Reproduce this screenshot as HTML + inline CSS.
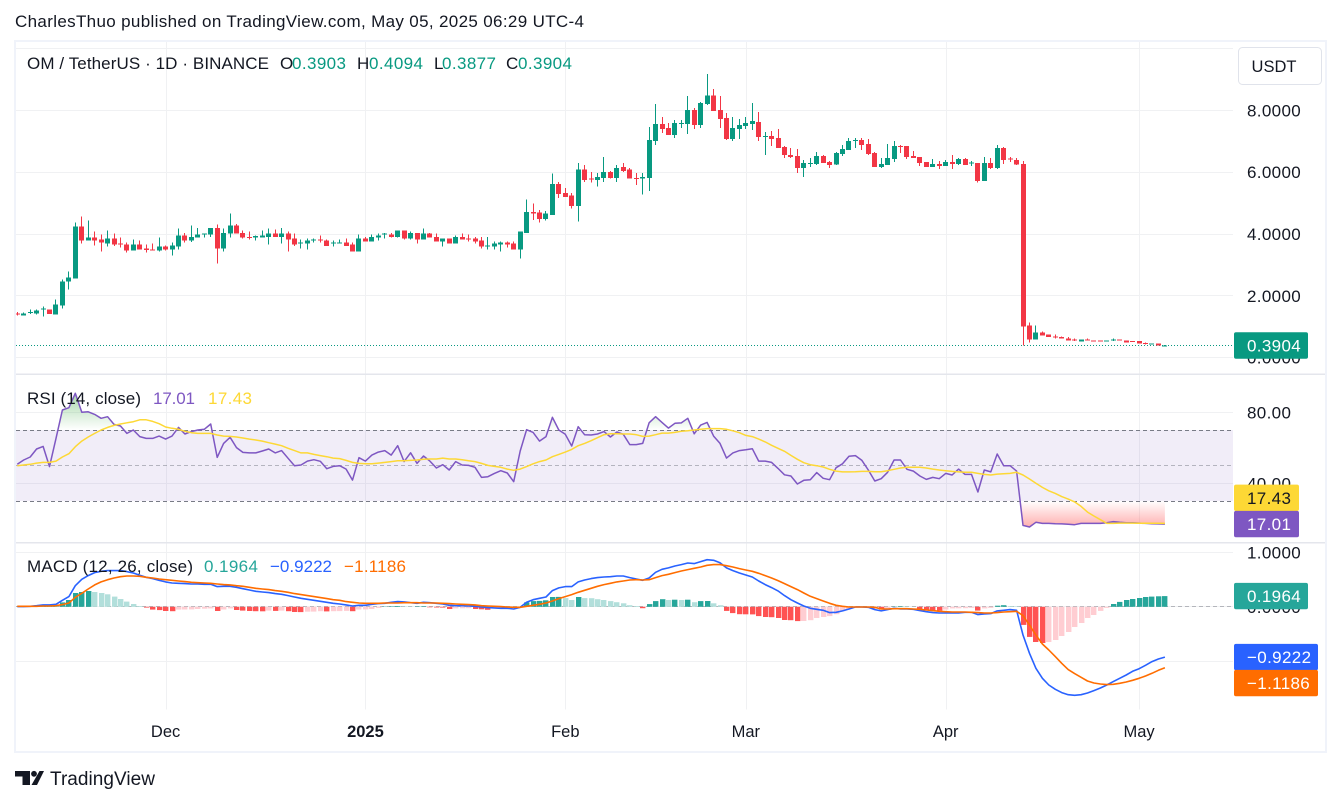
<!DOCTYPE html>
<html lang="en">
<head>
<meta charset="utf-8">
<title>OM / TetherUS chart</title>
<style>
html,body{margin:0;padding:0;background:#fff;width:1341px;height:805px;overflow:hidden}
svg{display:block}
text{font-family:"Liberation Sans",sans-serif;fill:#131722}
.ax{font-size:17px;letter-spacing:.35px}
.lg{font-size:17px}
</style>
</head>
<body>
<svg id="root" width="1341" height="805" viewBox="0 0 1341 805" xmlns="http://www.w3.org/2000/svg">
  <defs>
    <clipPath id="plotClip"><rect x="16" y="42" width="1217" height="668"/></clipPath>
    <clipPath id="aboveBand"><rect x="16" y="376" width="1217" height="54.3"/></clipPath>
    <clipPath id="belowBand"><rect x="16" y="501" width="1217" height="41"/></clipPath>
    <linearGradient id="obGrad" gradientUnits="userSpaceOnUse" x1="0" y1="388" x2="0" y2="430">
      <stop offset="0" stop-color="#4caf50" stop-opacity="0.55"/>
      <stop offset="1" stop-color="#4caf50" stop-opacity="0"/>
    </linearGradient>
    <linearGradient id="osGrad" gradientUnits="userSpaceOnUse" x1="0" y1="501" x2="0" y2="526">
      <stop offset="0" stop-color="#ff5252" stop-opacity="0"/>
      <stop offset="1" stop-color="#ff5252" stop-opacity="0.45"/>
    </linearGradient>
  </defs>

  <text x="15" y="27" font-size="17" textLength="569">CharlesThuo published on TradingView.com, May 05, 2025 06:29 UTC-4</text>

  <rect x="15" y="41" width="1311" height="711" fill="#fff" stroke="#f0f3fa" stroke-width="2"/>

  <g id="grid"></g>

  <rect x="16" y="430" width="1217" height="71" fill="#7e57c2" fill-opacity="0.11"/>
  <line x1="16" x2="1233" y1="430.5" y2="430.5" stroke="#787b86" stroke-dasharray="4 3"/>
  <line x1="16" x2="1233" y1="465.5" y2="465.5" stroke="#787b86" stroke-opacity="0.5" stroke-dasharray="4 3"/>
  <line x1="16" x2="1233" y1="501.5" y2="501.5" stroke="#787b86" stroke-dasharray="4 3"/>
  <line x1="16" x2="1233" y1="606.5" y2="606.5" stroke="#787b86" stroke-opacity="0.5" stroke-dasharray="4 3"/>

  <line x1="16" x2="1233" y1="345.5" y2="345.5" stroke="#089981" stroke-dasharray="1 2"/>

  <g id="plots" clip-path="url(#plotClip)"></g>

  <rect x="16" y="373.5" width="1309" height="1.5" fill="#e4e6ec"/>
  <rect x="16" y="542" width="1309" height="1.5" fill="#e4e6ec"/>

  <g id="axes"></g>
  <g id="tags"></g>

  <g class="lg">
    <text class="lg" x="27" y="69" textLength="242">OM / TetherUS · 1D · BINANCE</text>
    <text class="lg" x="280" y="69">O</text>
    <text class="lg" x="292" y="69" style="fill:#089981" textLength="54">0.3903</text>
    <text class="lg" x="357" y="69">H</text>
    <text class="lg" x="369" y="69" style="fill:#089981" textLength="54">0.4094</text>
    <text class="lg" x="434" y="69">L</text>
    <text class="lg" x="442" y="69" style="fill:#089981" textLength="54">0.3877</text>
    <text class="lg" x="506" y="69">C</text>
    <text class="lg" x="518" y="69" style="fill:#089981" textLength="54">0.3904</text>
  </g>
  <g>
    <text class="lg" x="27" y="404" textLength="114">RSI (14, close)</text>
    <text class="lg" x="153" y="404" style="fill:#7e57c2" textLength="42">17.01</text>
    <text class="lg" x="208" y="404" style="fill:#fdd835" textLength="44">17.43</text>
  </g>
  <g>
    <text class="lg" x="27" y="572" textLength="166">MACD (12, 26, close)</text>
    <text class="lg" x="204" y="572" style="fill:#26a69a" textLength="54">0.1964</text>
    <text class="lg" x="270" y="572" style="fill:#2962ff" textLength="62">−0.9222</text>
    <text class="lg" x="344" y="572" style="fill:#ff6d00" textLength="62">−1.1186</text>
  </g>

  <g>
    <rect x="1238.5" y="47.5" width="83" height="37" rx="4" fill="#fff" stroke="#e0e3eb"/>
    <text x="1274" y="72" text-anchor="middle" font-size="16.5">USDT</text>
  </g>

  <g>
    <path d="M15 771H30V785H22.5V776.5H15Z M39.5 771H44L37 785H31.5Z" fill="#131722"/>
    <circle cx="34" cy="773.8" r="2.9" fill="#131722"/>
    <text x="50" y="785" font-size="19" textLength="105">TradingView</text>
  </g>
</svg>

<script>
// Daily candles from 8 Nov 2024 to 5 May 2025: [open, high, low, close]
const candles = [
[1.43,1.47,1.37,1.40],[1.37,1.46,1.37,1.43],[1.44,1.56,1.41,1.47],[1.43,1.56,1.40,1.53],[1.57,1.65,1.33,1.59],
[1.56,1.56,1.41,1.41],[1.40,1.88,1.40,1.72],[1.69,2.53,1.59,2.46],[2.46,2.78,2.20,2.59],[2.56,4.37,2.56,4.24],
[4.24,4.56,3.69,3.79],[3.79,4.43,3.79,3.88],[3.88,4.08,3.62,3.79],[3.82,3.98,3.43,3.72],[3.69,4.11,3.59,3.85],
[3.85,4.01,3.62,3.66],[3.69,3.88,3.56,3.67],[3.66,3.72,3.40,3.46],[3.46,3.82,3.46,3.66],[3.66,3.79,3.50,3.50],
[3.53,3.66,3.40,3.48],[3.50,3.69,3.47,3.47],[3.46,3.88,3.43,3.59],[3.59,3.62,3.46,3.50],[3.50,3.72,3.30,3.62],
[3.59,4.17,3.50,3.95],[3.95,4.04,3.72,3.79],[3.79,4.27,3.75,3.91],[3.88,4.20,3.88,3.98],[3.98,4.01,3.88,4.01],
[3.98,4.20,3.91,4.20],[4.20,4.30,3.04,3.53],[3.53,4.17,3.43,4.04],[4.01,4.66,3.88,4.27],[4.27,4.33,4.01,4.01],
[4.04,4.11,3.85,3.88],[3.91,4.08,3.82,3.87],[3.88,3.95,3.79,3.93],[3.88,4.11,3.88,3.95],[3.91,4.17,3.66,4.01],
[4.01,4.14,3.91,3.91],[3.91,4.20,3.69,4.01],[4.01,4.08,3.43,3.82],[3.85,4.01,3.62,3.66],[3.70,3.82,3.53,3.72],
[3.69,3.85,3.50,3.79],[3.79,3.85,3.72,3.82],[3.82,3.95,3.72,3.79],[3.79,3.82,3.62,3.62],[3.69,3.79,3.59,3.72],
[3.70,3.82,3.69,3.72],[3.72,3.85,3.62,3.62],[3.66,3.72,3.43,3.43],[3.43,3.98,3.43,3.85],[3.85,3.91,3.75,3.75],
[3.75,3.98,3.75,3.91],[3.88,4.01,3.79,3.95],[3.98,4.04,3.85,4.01],[3.98,4.04,3.88,3.91],[3.91,4.11,3.88,4.11],
[4.11,4.11,3.82,3.85],[3.85,4.08,3.82,4.04],[4.04,4.04,3.69,3.82],[3.82,4.17,3.82,4.01],[4.01,4.04,3.88,3.88],
[3.91,4.01,3.75,3.75],[3.75,3.85,3.59,3.85],[3.85,3.85,3.69,3.69],[3.69,3.95,3.69,3.91],[3.91,4.01,3.82,3.82],
[3.85,3.98,3.75,3.83],[3.85,3.91,3.69,3.75],[3.79,3.91,3.53,3.59],[3.60,3.91,3.50,3.62],[3.59,3.75,3.50,3.69],
[3.66,3.75,3.43,3.72],[3.72,3.75,3.56,3.66],[3.69,3.75,3.50,3.50],[3.50,4.08,3.20,4.08],[4.04,5.11,4.04,4.72],
[4.72,4.98,4.46,4.66],[4.69,4.78,4.37,4.49],[4.49,4.75,4.43,4.66],[4.62,5.95,4.62,5.62],[5.62,5.69,5.17,5.30],
[5.33,5.49,5.20,5.20],[5.24,5.33,4.82,4.91],[4.91,6.30,4.40,6.08],[6.08,6.24,5.69,5.75],[5.79,6.01,5.66,5.76],
[5.75,5.98,5.53,5.85],[5.82,6.49,5.69,6.01],[6.01,6.04,5.79,5.82],[5.82,6.24,5.69,6.14],[6.17,6.30,6.01,6.04],
[6.08,6.14,5.79,5.79],[5.82,5.98,5.59,5.80],[5.79,5.98,5.27,5.85],[5.82,7.46,5.40,7.04],[7.01,8.21,6.88,7.56],
[7.56,7.79,7.27,7.40],[7.43,7.59,7.20,7.20],[7.20,7.69,7.11,7.59],[7.58,7.69,7.43,7.60],[7.56,8.46,7.24,8.01],
[8.01,8.08,7.40,7.53],[7.53,8.27,7.43,8.24],[8.21,9.17,8.17,8.49],[8.49,8.69,7.98,7.98],[8.01,8.46,7.43,7.72],
[7.75,7.91,7.04,7.08],[7.08,7.79,7.01,7.43],[7.40,7.72,7.08,7.53],[7.49,7.79,7.40,7.59],[7.56,8.24,7.37,7.66],
[7.62,7.95,7.01,7.14],[7.15,7.30,6.56,7.17],[7.17,7.33,6.85,7.08],[7.11,7.40,6.79,6.79],[6.82,6.85,6.46,6.56],
[6.56,6.79,6.46,6.49],[6.53,6.75,5.98,6.14],[6.14,6.40,5.85,6.30],[6.27,6.46,6.17,6.30],[6.27,6.66,6.24,6.53],
[6.53,6.56,6.30,6.30],[6.33,6.37,6.14,6.24],[6.24,6.66,6.24,6.62],[6.59,6.88,6.53,6.75],[6.72,7.11,6.72,7.01],
[7.01,7.11,6.79,7.04],[7.04,7.11,6.72,6.88],[6.91,7.07,6.56,6.59],[6.62,6.66,6.17,6.17],[6.17,6.46,6.14,6.27],
[6.24,6.91,6.24,6.46],[6.43,7.01,6.33,6.85],[6.85,6.88,6.62,6.82],[6.85,6.85,6.43,6.49],[6.53,6.69,6.46,6.46],
[6.49,6.49,6.20,6.30],[6.33,6.33,6.17,6.17],[6.17,6.43,6.17,6.27],[6.27,6.37,6.11,6.20],[6.20,6.40,6.20,6.33],
[6.33,6.56,6.11,6.27],[6.27,6.46,6.24,6.43],[6.43,6.46,6.24,6.24],[6.29,6.37,6.20,6.31],[6.30,6.30,5.66,5.72],
[5.72,6.49,5.72,6.30],[6.30,6.46,6.11,6.14],[6.14,6.88,6.11,6.79],[6.79,6.82,6.27,6.40],[6.45,6.49,6.33,6.42],
[6.40,6.46,6.24,6.24],[6.27,6.37,0.40,1.01],[1.04,1.14,0.49,0.59],[0.59,1.04,0.59,0.82],[0.82,0.85,0.72,0.72],
[0.75,0.75,0.66,0.66],[0.69,0.75,0.62,0.67],[0.66,0.69,0.62,0.62],[0.62,0.66,0.56,0.56],[0.59,0.62,0.53,0.56],
[0.53,0.59,0.53,0.59],[0.59,0.62,0.56,0.56],[0.56,0.56,0.54,0.54],[0.56,0.56,0.54,0.54],[0.54,0.56,0.54,0.56],
[0.56,0.62,0.53,0.59],[0.59,0.59,0.56,0.56],[0.56,0.56,0.49,0.49],[0.53,0.53,0.50,0.50],[0.53,0.53,0.46,0.46],
[0.48,0.49,0.43,0.46],[0.43,0.46,0.43,0.46],[0.46,0.46,0.40,0.40],[0.3903,0.4094,0.3877,0.3904]
];

const rsiValues = [
50.7,53.1,54.8,59.3,60.8,49.4,65.3,81.3,82.6,90.7,
80.0,80.3,78.8,76.6,77.5,73.2,72.3,68.1,70,66.3,
65.3,65.3,66.6,64.9,66.6,71.5,67.8,69.1,70,70.4,
73.4,54.6,62.5,65.9,60.1,57.4,57.1,57.1,58.2,59.3,
57.1,58.4,54.1,49.9,50.3,52.5,53.3,52.4,48.2,49.5,
49.9,48,41.8,54.4,52.5,55.9,57.6,58.4,55.9,61.2,
52.2,57.2,51.2,55.4,52.5,48.6,50.5,47.5,52.2,50.3,
50.1,49,43.3,43.7,45.6,47.1,45.8,40.9,58.2,70.2,
68.7,63.8,66.3,77.2,70,67.6,61,71.9,67.4,67.2,
67.8,69.1,66.1,68.9,67.6,61.8,61.8,62.5,74.1,77.5,
74.3,71.1,73.8,74,76.6,67.9,72.8,74.3,66.6,62.5,
54.2,57.1,58.4,58.9,59.5,52.5,52.5,51.8,48.4,44.8,
44.1,39.6,41.7,42,46,42.8,42,48.8,51,55.2,
55.6,52.9,47.5,41.3,42.6,46.2,53.1,53.1,47.9,46.9,
44.1,42.2,43.3,42.6,45.6,44.7,48,45,45,35.1,
47.5,46.4,56.5,49.9,49.9,46.9,16.3,15.4,18,17.4,
17.4,17.2,17.1,16.9,16.7,17.4,17.4,17.4,17.4,17.8,
18.4,18,17.8,17.8,17.6,17.4,17.2,17.1,17.01
];

const rsiMaValues = [
49.9,50.3,50.7,51.4,51.8,51.8,52.5,54.8,56.7,60.6,
63.8,66.1,68.1,70,71.5,72.6,73.4,74.1,74.7,75.8,
75.8,74.9,73.6,71.7,71,70.4,69.3,68.5,68.1,68.1,
68.1,67.2,66.6,66.4,66.1,65.5,64.9,64.4,63.8,62.9,
62.1,61.2,59.7,58.4,57.1,57.1,56.3,55.6,55,54.2,
53.9,52.9,51.8,51.2,51,51,51.4,51.8,52.2,52.7,
52.7,52.9,53.1,53.5,53.7,53.7,54.2,53.7,53.7,53.3,
52.7,52.2,51.2,50.1,49.5,49,48,47.3,48,49.4,
51,52.2,53.1,55,56.3,57.6,59.1,61.2,62.5,64,
65.7,67.4,67.9,67.9,67.8,67.8,67.4,66.4,66.6,67.4,
68.3,68.3,68.7,69.3,69.6,70,70.4,70.8,70.8,70.8,
70.4,69.6,68.5,67,66.3,64.9,63.3,61.4,59.7,58,
55.7,53.5,51.6,50.5,49.9,49.2,47.9,46.9,46.4,46.4,
46.5,46.7,46.7,46.5,46.5,47.1,47.9,48.6,49,49,
49,48.6,48,47.5,47.1,46.7,46.4,46.2,46.2,45.6,
45,44.7,45.2,45.4,45.6,46.2,44.7,42.4,40,37.7,
35.8,34.3,32.5,31.1,29.5,27,23.8,21.6,19.5,17.4,
17.4,17.6,17.6,17.6,17.5,17.5,17.45,17.44,17.43
];

const macdLine = [
.003,.003,.009,.021,.034,.034,.046,.119,.187,.388,
.505,.572,.627,.651,.664,.664,.664,.645,.621,.578,
.541,.517,.486,.456,.437,.431,.425,.419,.419,.413,
.413,.37,.376,.376,.358,.333,.309,.284,.272,.26,
.242,.229,.205,.18,.156,.138,.119,.101,.083,.064,
.052,.034,.015,.028,.028,.046,.058,.064,.083,.095,
.089,.076,.064,.083,.076,.064,.052,.028,.021,.021,
.015,.009,-.003,-.015,-.021,-.028,-.028,-.04,-.009,.083,
.131,.156,.18,.297,.346,.37,.37,.456,.492,.517,
.535,.547,.553,.566,.566,.535,.511,.486,.529,.633,
.688,.713,.749,.774,.804,.792,.829,.865,.853,.81,
.713,.664,.621,.584,.547,.474,.407,.352,.291,.205,
.131,.07,.015,-.028,-.046,-.064,-.107,-.101,-.076,-.04,
-.003,-.003,-.009,-.052,-.076,-.052,-.028,-.04,-.04,-.046,
-.07,-.089,-.107,-.113,-.113,-.113,-.113,-.101,-.101,-.144,
-.131,-.125,-.076,-.064,-.052,-.064,-.517,-.853,-1.128,-1.312,
-1.434,-1.514,-1.575,-1.612,-1.624,-1.612,-1.581,-1.538,-1.489,-1.434,
-1.373,-1.312,-1.251,-1.183,-1.135,-1.073,-1.006,-.957,-.9222
];

const macdSignal = [
.009,.009,.009,.009,.015,.015,.021,.04,.07,.174,
.248,.327,.401,.456,.498,.529,.553,.566,.566,.56,
.541,.529,.511,.498,.486,.474,.462,.449,.443,.437,
.431,.419,.407,.401,.388,.376,.358,.339,.327,.315,
.297,.284,.266,.242,.223,.205,.187,.168,.15,.131,
.119,.095,.083,.07,.064,.064,.064,.07,.07,.07,
.076,.076,.076,.07,.07,.07,.064,.058,.052,.046,
.04,.034,.021,.015,.009,.003,-.003,-.009,-.009,.009,
.028,.046,.07,.107,.15,.187,.223,.266,.303,.339,
.376,.407,.431,.456,.474,.492,.498,.492,.498,.535,
.572,.596,.627,.657,.682,.706,.731,.761,.774,.774,
.755,.731,.7,.676,.651,.615,.572,.529,.48,.425,
.37,.315,.254,.193,.15,.107,.064,.028,.009,-.003,
-.003,-.003,-.003,-.009,-.04,-.04,-.034,-.034,-.034,-.04,
-.046,-.058,-.07,-.083,-.089,-.095,-.095,-.095,-.101,-.107,
-.113,-.113,-.107,-.095,-.089,-.083,-.162,-.333,-.517,-.682,
-.792,-.914,-1.037,-1.153,-1.226,-1.294,-1.361,-1.398,-1.416,-1.428,
-1.422,-1.404,-1.379,-1.349,-1.312,-1.269,-1.22,-1.165,-1.1186
];

const macdHistogram = [
.002,.002,.003,.004,.006,.008,.01,.08,.125,.254,
.272,.29,.272,.254,.23,.187,.144,.095,.052,.015,
-.015,-.052,-.06,-.077,-.08,-.052,-.05,-.048,-.04,-.034,
-.03,-.077,-.05,-.03,-.058,-.07,-.077,-.08,-.082,-.07,
-.075,-.07,-.08,-.095,-.097,-.09,-.088,-.08,-.085,-.08,
-.078,-.075,-.08,-.05,-.048,-.04,-.02,.005,.01,.012,
.008,.006,.008,.01,-.01,-.012,-.015,-.04,-.03,-.028,
-.025,-.04,-.045,-.055,-.03,-.01,-.005,-.003,.005,.08,
.105,.108,.12,.18,.182,.16,.125,.18,.16,.158,
.14,.125,.105,.085,.065,.03,.015,-.025,.05,.105,
.14,.125,.13,.125,.13,.085,.105,.107,.065,.03,
-.075,-.115,-.135,-.137,-.14,-.17,-.187,-.19,-.205,-.243,
-.245,-.262,-.26,-.245,-.205,-.187,-.17,-.135,-.08,-.04,
-.015,-.005,-.002,-.03,-.05,-.03,.005,.01,.008,.002,
-.05,-.055,-.06,-.07,-.05,-.03,-.028,-.025,-.02,-.07,
-.03,-.02,.02,.03,.015,.01,-.333,-.553,-.645,-.664,
-.645,-.61,-.535,-.462,-.37,-.297,-.205,-.15,-.076,-.02,
.052,.089,.125,.144,.162,.18,.187,.192,.1964
];

const priceGridTicks = [10, 8, 6, 4, 2, 0];
const priceTickLabels = [8, 6, 4, 2, 0];
const rsiTicks = [80, 40];
const macdTicks = [1, 0, -1];
const monthLabels = ["Dec", "2025", "Feb", "Mar", "Apr", "May"];
const monthIndexes = [23, 54, 85, 113, 144, 174];

const NS = "http://www.w3.org/2000/svg";
const xAt = i => 17.3 + 6.447 * i;
const yPrice = p => 357.6 - 30.9 * p;
const yRsi = r => 554.3 - 1.775 * r;
const yMacd = m => 606.8 - 54.5 * m;

const plots = document.getElementById("plots");
const grid = document.getElementById("grid");
const axes = document.getElementById("axes");
const tags = document.getElementById("tags");

function make(tag, attrs, parent) {
  const el = document.createElementNS(NS, tag);
  for (const k in attrs) el.setAttribute(k, attrs[k]);
  parent.appendChild(el);
  return el;
}
function snap(y) { return Math.round(y - 0.5) + 0.5; }
function polyline(values, yFn) {
  return values.map((v, i) => xAt(i).toFixed(1) + "," + yFn(v).toFixed(1)).join(" ");
}

/* horizontal grid */
priceGridTicks.forEach(p => {
  const el = make("line", {x1: 16, x2: 1233, y1: snap(yPrice(p)), y2: snap(yPrice(p)), stroke: "#f0f1f3"}, grid);
  
  
});
rsiTicks.forEach(r => {
  const el = make("line", {x1: 16, x2: 1233, y1: snap(yRsi(r)), y2: snap(yRsi(r)), stroke: "#f0f1f3"}, grid);
  
  
});
macdTicks.forEach(m => {
  const el = make("line", {x1: 16, x2: 1233, y1: snap(yMacd(m)), y2: snap(yMacd(m)), stroke: "#f0f1f3"}, grid);
  
  
});
/* vertical grid + time labels */
monthIndexes.forEach((idx, k) => {
  const x = Math.round(xAt(idx)) + 0.5;
  const line = make("line", {x1: x, x2: x, y1: 42, y2: 709.5, stroke: "#f0f1f3"}, grid);
  
  
  const t = make("text", {x: xAt(idx), y: 737, "text-anchor": "middle", "font-size": 16.5}, axes);
  if (monthLabels[k] === "2025") t.setAttribute("font-weight", "bold");
  t.textContent = monthLabels[k];
  
  
});

/* candles */
candles.forEach((c, i) => {
  const [o, h, l, cl] = c;
  const up = cl >= o;
  const col = up ? "#089981" : "#f23645";
  const x0 = Math.round(xAt(i) - 2.5);
  const wick = make("rect", {x: x0 + 2, y: yPrice(h).toFixed(1), width: 1, height: Math.max(1, yPrice(l) - yPrice(h)).toFixed(1), fill: col, "shape-rendering": "crispEdges"}, plots);
  
  
  const top = yPrice(Math.max(o, cl));
  const body = make("rect", {x: x0, y: top.toFixed(1), width: 5, height: Math.max(1, yPrice(Math.min(o, cl)) - top).toFixed(1), fill: col, "shape-rendering": "crispEdges"}, plots);
  
  
});

/* RSI fills and lines */
const rsiBaseHigh = yRsi(70);
const rsiBaseLow = yRsi(30);
const rsiPts = polyline(rsiValues, yRsi);
const lastX = xAt(rsiValues.length - 1);
const firstX = xAt(0);
const obArea = make("polygon", {points: rsiPts + " " + lastX + "," + rsiBaseHigh + " " + firstX + "," + rsiBaseHigh, fill: "url(#obGrad)", "clip-path": "url(#aboveBand)"}, plots);


const osArea = make("polygon", {points: rsiPts + " " + lastX + "," + rsiBaseLow + " " + firstX + "," + rsiBaseLow, fill: "url(#osGrad)", "clip-path": "url(#belowBand)"}, plots);



const rsiPath = make("polyline", {points: rsiPts, fill: "none", stroke: "#7e57c2", "stroke-width": 1.5, "stroke-linejoin": "round"}, plots);


const rsiMaPath = make("polyline", {points: polyline(rsiMaValues, yRsi), fill: "none", stroke: "#fdd835", "stroke-width": 1.5, "stroke-linejoin": "round"}, plots);



/* MACD histogram */
macdHistogram.forEach((v, i) => {
  const prev = i > 0 ? macdHistogram[i - 1] : 0;
  let col;
  if (v >= 0) col = v >= prev ? "#26a69a" : "#b2dfdb";
  else col = v <= prev ? "#ff5252" : "#ffcdd2";
  const y0 = yMacd(0), y1 = yMacd(v);
  const bar = make("rect", {x: Math.round(xAt(i) - 2.5), y: Math.min(y0, y1).toFixed(1), width: 5.4, height: Math.abs(y0 - y1).toFixed(1), fill: col}, plots);
  
  
});
const macdPath = make("polyline", {points: polyline(macdLine, yMacd), fill: "none", stroke: "#2962ff", "stroke-width": 1.6, "stroke-linejoin": "round"}, plots);


const signalPath = make("polyline", {points: polyline(macdSignal, yMacd), fill: "none", stroke: "#ff6d00", "stroke-width": 1.6, "stroke-linejoin": "round"}, plots);



/* axis tick labels */
priceTickLabels.forEach(p => {
  const t = make("text", {x: 1247, y: yPrice(p) + 6, class: "ax"}, axes);
  t.textContent = p.toFixed(4);
  
  
});
rsiTicks.forEach(r => {
  const t = make("text", {x: 1247, y: yRsi(r) + 6, class: "ax"}, axes);
  t.textContent = r.toFixed(2);
  
  
});
macdTicks.forEach(m => {
  const t = make("text", {x: 1247, y: yMacd(m) + 6, class: "ax"}, axes);
  t.textContent = m.toFixed(4).replace("-", "\u2212");
  
  
});

/* last-value tags */
function tag(cy, w, bg, fg, label) {
  const group = make("g", {}, tags);
  const box = make("rect", {x: 1234, y: (cy - 13.2).toFixed(1), width: w, height: 26.4, rx: 2, fill: bg}, group);
  const t = make("text", {x: 1247, y: (cy + 6).toFixed(1), class: "ax", style: "fill:" + fg}, group);
  t.textContent = label;
  return {group, box, t};
}
const fmt = (v, d) => v.toFixed(d).replace("-", "\u2212");
const lastClose = candles[candles.length - 1][3];
const lastRsi = rsiValues[rsiValues.length - 1];
const lastRsiMa = rsiMaValues[rsiMaValues.length - 1];
const lastHist = macdHistogram[macdHistogram.length - 1];
const lastMacd = macdLine[macdLine.length - 1];
const lastSignal = macdSignal[macdSignal.length - 1];

const priceTag = tag(yPrice(lastClose), 74, "#089981", "#fff", fmt(lastClose, 4));



const rsiCy = Math.min(yRsi(lastRsi), 525.2);
const rsiMaTag = tag(rsiCy - 26.3, 65, "#fdd835", "#131722", fmt(lastRsiMa, 2));


const rsiTag = tag(rsiCy, 65, "#7e57c2", "#fff", fmt(lastRsi, 2));



const histTag = tag(yMacd(lastHist), 74, "#26a69a", "#fff", fmt(lastHist, 4));



const macdCy = yMacd(lastMacd);
const macdTag = tag(macdCy, 84, "#2962ff", "#fff", fmt(lastMacd, 4));


const signalTag = tag(Math.max(yMacd(lastSignal), macdCy + 26), 84, "#ff6d00", "#fff", fmt(lastSignal, 4));


</script>
</body>
</html>
